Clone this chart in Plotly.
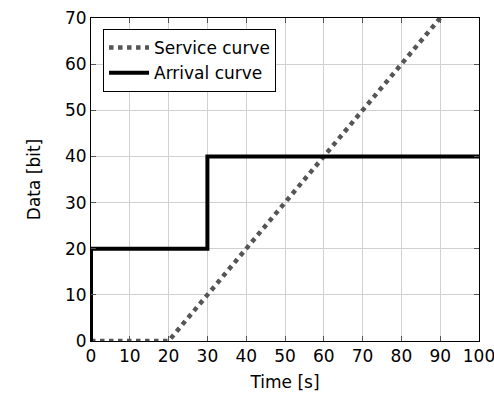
import plotly.graph_objects as go

service_x = [0, 20, 90]
service_y = [0, 0, 70]
arrival_x = [0, 0, 30, 30, 100]
arrival_y = [0, 20, 20, 40, 40]
x_ticks = [0, 10, 20, 30, 40, 50, 60, 70, 80, 90, 100]
y_ticks = [0, 10, 20, 30, 40, 50, 60, 70]

fig = go.Figure()
fig.add_trace(go.Scatter(x=service_x, y=service_y, mode="lines", name="Service curve",
                         line=dict(color="#555555", width=4.5, dash="dot")))
fig.add_trace(go.Scatter(x=arrival_x, y=arrival_y, mode="lines", name="Arrival curve",
                         line=dict(color="black", width=4)))

axis_common = dict(showline=True, linecolor="black", linewidth=1, mirror="ticks",
                   ticks="inside", ticklen=5, tickcolor="#555555", automargin=False,
                   ticklabeloverflow="allow",
                   showgrid=True, gridcolor="#d0d0d0", gridwidth=1, zeroline=False,
                   tickfont=dict(size=17, color="black"))
fig.update_xaxes(range=[0, 100], tickvals=x_ticks, title=dict(text="Time [s]", font=dict(size=17), standoff=10),
                 **axis_common)
fig.update_yaxes(range=[0, 70], tickvals=y_ticks, title=dict(text="Data [bit]", font=dict(size=17), standoff=20),
                 **axis_common)

fig.update_layout(
    width=494, height=401,
    margin=dict(l=91, r=15, t=18, b=60, autoexpand=False),
    plot_bgcolor="white", paper_bgcolor="white",
    font=dict(family="DejaVu Sans", size=17, color="black"),
    legend=dict(x=0.031, y=0.966, xanchor="left", yanchor="top",
                bordercolor="black", borderwidth=1, bgcolor="white",
                font=dict(size=17), tracegroupgap=0, itemwidth=40, entrywidth=172),
)
fig.write_html("out.html", config={"displayModeBar": False},
               post_script="document.body.style.margin='0';")
